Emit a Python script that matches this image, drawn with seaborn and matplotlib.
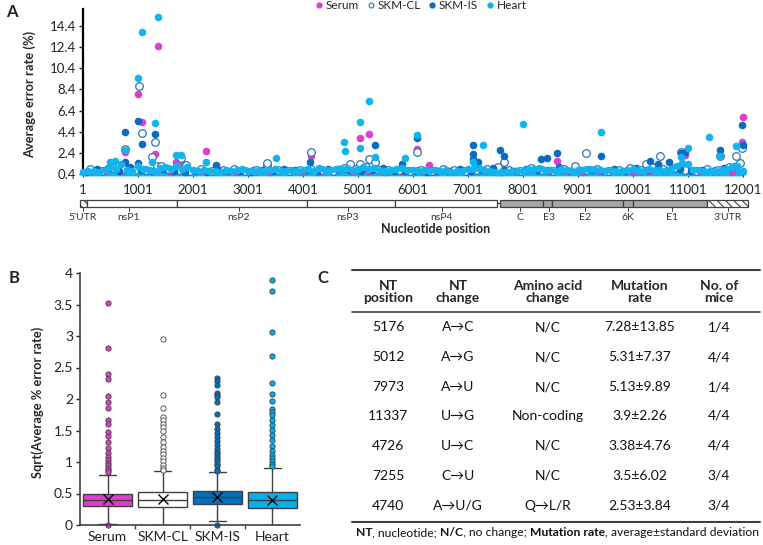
import matplotlib
matplotlib.use("Agg")
import matplotlib.pyplot as plt
from matplotlib.lines import Line2D
from matplotlib.patches import Rectangle
from matplotlib.ticker import FuncFormatter
import numpy as np
import pandas as pd
import seaborn as sns

W, H = 763, 545
FONT = ["Lato", "DejaVu Sans"]

C_SERUM = "#E23CCF"
C_CL = "#2E75B6"
C_IS = "#0B6BBE"
C_HEART = "#12B4EE"
C_EDGE = "#404040"

# ---------------- Panel A: error rate along the genome ----------------
SERIES = ["Serum", "SKM-CL", "SKM-IS", "Heart"]

# dense baseline band (positions every 100 / 200 / 300 nt)
heart_band_pos = list(range(1, 12002, 100))
heart_band = [0.6, 0.7, 0.65, 0.6, 0.75, 1.1, 0.9, 1.3, 0.8, 0.7,
              1.2, 0.9, 0.8, 0.7, 0.95, 1.1, 0.85, 1.15, 0.9, 1.05,
              0.8, 0.7, 0.75, 0.65, 0.7, 0.6, 0.8, 0.7, 0.75, 0.9,
              0.7, 0.65, 0.8, 0.7, 0.75, 0.9, 0.7, 0.65, 0.8, 0.7,
              0.75, 0.85, 0.7, 0.95, 0.8, 0.75, 0.9, 0.85, 1.0, 0.8,
              0.9, 1.05, 0.85, 1.0, 0.8, 0.7, 0.75, 0.9, 1.0, 0.75,
              0.8, 0.7, 0.75, 0.65, 0.8, 0.7, 0.75, 0.6, 0.7, 0.65,
              0.85, 0.9, 1.0, 0.8, 0.7, 0.6, 0.55, 0.6, 0.7, 0.65,
              0.7, 0.9, 0.85, 0.95, 0.8, 0.75, 0.7, 0.85, 0.8, 0.7,
              0.8, 0.75, 0.85, 0.9, 0.8, 0.7, 0.75, 0.65, 0.7, 0.8,
              0.85, 0.8, 0.7, 0.9, 0.75, 0.8, 0.7, 0.85, 1.2, 1.4,
              1.3, 0.8, 0.75, 0.7, 0.65, 0.7, 0.8, 0.9, 1.1, 1.2,
              0.7]
is_band_pos = list(range(51, 12001, 200))
is_band = [0.6, 0.9, 1.0, 0.7, 1.1, 0.8, 0.7, 0.9, 0.65, 0.6,
           0.7, 0.6, 0.75, 0.65, 0.7, 0.6, 0.8, 0.7, 0.9, 0.75,
           0.8, 0.7, 0.85, 0.9, 0.75, 0.7, 0.8, 0.95, 0.7, 0.65,
           0.7, 0.6, 0.65, 0.7, 0.9, 0.7, 0.75, 1.0, 0.8, 0.7,
           0.9, 0.8, 0.75, 1.1, 0.7, 0.8, 0.75, 0.7, 0.85, 0.7,
           1.0, 0.8, 1.3, 1.5, 0.9, 0.7, 0.8, 0.7, 1.0, 1.2]
cl_band_pos = list(range(151, 12001, 200))
cl_band = [0.8, 0.7, 1.0, 0.9, 0.75, 0.8, 1.2, 0.9, 0.8, 0.7,
           0.85, 0.7, 0.8, 0.9, 0.7, 0.8, 1.25, 0.8, 0.7, 0.75,
           0.9, 0.8, 0.7, 1.0, 0.85, 1.1, 0.9, 0.8, 0.75, 0.7,
           0.8, 0.7, 0.9, 0.8, 0.7, 0.75, 0.85, 1.1, 0.8, 0.7,
           0.95, 0.8, 0.7, 0.85, 1.2, 0.8, 0.9, 0.7, 0.8, 1.0,
           0.8, 1.1, 0.9, 1.0, 0.8, 0.7, 0.9, 0.8, 1.1, 1.4]
serum_band_pos = list(range(101, 12001, 300))
serum_band = [0.6, 0.7, 0.65, 0.9, 0.7, 0.6, 0.8, 0.65, 0.7, 0.6,
              0.75, 0.6, 0.7, 0.65, 0.6, 0.8, 0.7, 0.65, 0.6, 0.7,
              0.8, 0.6, 0.7, 0.65, 0.75, 0.6, 0.7, 0.9, 0.7, 0.65,
              0.6, 0.7, 0.8, 0.6, 0.7, 0.75, 0.9, 0.7, 0.8, 0.6]

# individual high positions
serum_hi_pos = [1370, 1006, 1079, 758, 1309, 1697, 1788, 2242, 4145, 5036,
                5206, 6079, 6291, 8612, 10950, 12006, 11988]
serum_hi = [12.52, 7.92, 5.35, 2.5, 2.28, 1.56, 1.5, 2.53, 2.12, 3.84,
            4.16, 2.75, 1.28, 1.6, 2.2, 5.79, 3.44]
cl_hi_pos = [1012, 1079, 1309, 758, 1261, 1788, 1412, 1879, 133, 3339,
             4145, 5206, 4855, 5036, 5309, 6079, 7655, 9145, 10491, 10885,
             10248, 11594, 11988, 11885]
cl_hi = [8.76, 4.31, 3.47, 2.75, 1.97, 1.87, 1.18, 1.28, 0.87, 1.4,
         2.5, 1.81, 1.34, 1.34, 1.5, 2.44, 1.5, 2.37, 2.06, 2.44,
         1.3, 2.12, 2.9, 2.12]
is_hi_pos = [1006, 758, 1309, 1073, 2424, 758, 1006, 4127, 5309, 5794,
             6079, 7085, 7085, 7085, 7176, 7582, 7655, 8339, 8436, 8612,
             9418, 10309, 10945, 10885, 11594, 11988, 12000]
is_hi = [5.44, 4.41, 4.16, 3.19, 1.28, 1.5, 1.4, 1.5, 3.16, 1.34,
         3.84, 3.16, 2.28, 1.81, 1.5, 2.69, 2.06, 1.81, 1.87, 2.34,
         2.06, 1.65, 2.5, 2.34, 2.65, 5.0, 3.12]
heart_hi_pos = [1370, 1073, 1006, 1309, 758, 1255, 1697, 1788, 2242, 485,
                576, 3509, 4752, 4764, 5206, 5036, 5036, 5309, 5855, 6079,
                7279, 7085, 8006, 9418, 11006, 10885, 11382, 11594, 11885]
heart_hi = [15.2, 13.87, 9.45, 5.25, 2.69, 1.56, 2.18, 2.22, 1.56, 1.5,
            1.6, 1.9, 3.38, 2.53, 7.29, 5.32, 2.9, 2.03, 1.87, 4.1,
            3.16, 1.5, 5.13, 4.38, 2.9, 1.97, 3.9, 2.12, 3.06]

# genome map (nt)
gene_names = ["5'UTR", "nsP1", "nsP2", "nsP3", "nsP4", "C", "E3", "E2", "6K", "E1", "3'UTR"]
gene_start = [-54, 77, 1710, 4073, 5673, 7582, 8364, 8527, 9818, 10000, 11345]
gene_end = [77, 1710, 4073, 5673, 7527, 8364, 8527, 9818, 10000, 11345, 12091]
gene_kind = ["utr", "ns", "ns", "ns", "ns", "s", "s", "s", "s", "s", "utr"]
gene_label_pos = [0, 837, 2837, 4818, 6527, 7945, 8473, 9127, 9909, 10709, 11727]

# ---------------- Panel B: box plot statistics ----------------
box_names = ["Serum", "SKM-CL", "SKM-IS", "Heart"]
box_colors = [C_SERUM, "white", "#0070C0", "#00B0F0"]
box_whislo = [0.01, 0.0, 0.06, 0.0]
box_q1 = [0.30, 0.29, 0.34, 0.27]
box_med = [0.40, 0.40, 0.44, 0.39]
box_q3 = [0.50, 0.53, 0.54, 0.52]
box_whishi = [0.79, 0.86, 0.84, 0.90]
box_mean = [0.41, 0.42, 0.45, 0.40]
fliers_serum = [3.53, 2.81, 2.39, 2.31, 2.04, 1.95, 1.86, 1.66, 1.61, 1.47, 1.42, 1.31,
                1.22, 1.14, 1.08, 1.03, 0.99, 0.95, 0.91, 0.87, 0.84, 0.0]
fliers_cl = [2.96, 2.07, 1.86, 1.71, 1.66, 1.61, 1.55, 1.50, 1.40, 1.32, 1.24, 1.18,
             1.12, 1.07, 1.02, 0.96, 0.91, 0.87]
fliers_is = [2.33, 2.29, 2.22, 2.10, 2.06, 2.03, 1.95, 1.76, 1.61, 1.53, 1.46, 1.39,
             1.33, 1.27, 1.21, 1.16, 1.13, 1.08, 1.05, 1.01, 0.97, 0.93, 0.88, 0.85, 0.0]
fliers_heart = [3.89, 3.71, 3.06, 2.69, 2.26, 2.08, 1.97, 1.84, 1.79, 1.74, 1.67, 1.59,
                1.51, 1.43, 1.35, 1.25, 1.18, 1.11, 1.06, 1.02, 0.97, 0.93]

# ---------------- Panel C: table ----------------
col_headers = ["NT\nposition", "NT\nchange", "Amino acid\nchange", "Mutation\nrate", "No. of\nmice"]
nt_position = ["5176", "5012", "7973", "11337", "4726", "7255", "4740"]
nt_change = ["A\u2192C", "A\u2192G", "A\u2192U", "U\u2192G", "U\u2192C", "C\u2192U", "A\u2192U/G"]
aa_change = ["N/C", "N/C", "N/C", "Non-coding", "N/C", "N/C", "Q\u2192L/R"]
mutation_rate = ["7.28\u00b113.85", "5.31\u00b17.37", "5.13\u00b19.89", "3.9\u00b12.26",
                 "3.38\u00b14.76", "3.5\u00b16.02", "2.53\u00b13.84"]
no_of_mice = ["1/4", "4/4", "1/4", "4/4", "4/4", "3/4", "3/4"]
footnote = [("NT", "bold"), (", nucleotide;", "normal"), ("N/C", "bold"),
            (", no change;", "normal"), ("Mutation rate", "bold"),
            (", average\u00b1standard deviation", "normal")]

sns.set_theme(style="white")
plt.rcParams["font.family"] = FONT
plt.rcParams["hatch.linewidth"] = 0.8

fig = plt.figure(figsize=(W / 100, H / 100), dpi=100)
fig.patch.set_facecolor("white")


def axes_px(x0, y0, x1, y1):
    return fig.add_axes([x0 / W, 1 - y1 / H, (x1 - x0) / W, (y1 - y0) / H])


# ---- A ----
axA = axes_px(83, 9, 745, 174)
frames = []
for name, bp, bv, hp, hv in [
    ("Serum", serum_band_pos, serum_band, serum_hi_pos, serum_hi),
    ("SKM-CL", cl_band_pos, cl_band, cl_hi_pos, cl_hi),
    ("SKM-IS", is_band_pos, is_band, is_hi_pos, is_hi),
    ("Heart", heart_band_pos, heart_band, heart_hi_pos, heart_hi),
]:
    frames.append(pd.DataFrame({"series": name, "pos": bp + hp, "rate": bv + hv}))
dfA = pd.concat(frames, ignore_index=True)

# solid body of the overlapping heart band
axA.fill_between(heart_band_pos, 0.22, heart_band, color=C_HEART, lw=0, zorder=2.9,
                 clip_on=False)

styles = {
    "Serum": dict(color=C_SERUM, linewidth=0),
    "SKM-CL": dict(color="white", edgecolor=C_CL, linewidth=0.9),
    "SKM-IS": dict(color=C_IS, linewidth=0),
    "Heart": dict(color=C_HEART, linewidth=0),
}
for name in SERIES:
    sns.scatterplot(data=dfA[dfA["series"] == name], x="pos", y="rate", ax=axA,
                    s=30, legend=False, clip_on=False, zorder=3, **styles[name])

axA.set_xlim(1, 12040)
axA.set_ylim(0.4, 16.0)
axA.set_xticks(np.arange(1, 12002, 1000))
axA.set_yticks(np.arange(0.4, 15, 2))
axA.yaxis.set_major_formatter(FuncFormatter(lambda v, p: f"{v:.1f}"))
axA.set_xlabel("")
axA.set_ylabel("")
for s in ["top", "right"]:
    axA.spines[s].set_visible(False)
axA.spines["left"].set_color("black")
axA.spines["left"].set_linewidth(1.6)
axA.spines["bottom"].set_color("black")
axA.spines["bottom"].set_linewidth(1.0)
axA.tick_params(axis="y", direction="out", length=3, width=1, pad=2, labelsize=9.5,
                colors="#222222", left=True)
axA.tick_params(axis="x", direction="out", length=2, width=0.8, pad=5, labelsize=9.5,
                colors="#222222", bottom=True)
axA.patch.set_alpha(0)

handles = [
    Line2D([], [], marker="o", ls="", mfc=C_SERUM, mec=C_SERUM, ms=3.5),
    Line2D([], [], marker="o", ls="", mfc="white", mec=C_CL, ms=3.5, mew=0.8),
    Line2D([], [], marker="o", ls="", mfc=C_IS, mec=C_IS, ms=3.5),
    Line2D([], [], marker="o", ls="", mfc=C_HEART, mec=C_HEART, ms=3.5),
]
axA.legend(handles, SERIES, loc="center", bbox_to_anchor=(0.509, 1.02), ncol=4,
           frameon=False, fontsize=8.5, handletextpad=0.05, columnspacing=0.5,
           handlelength=1.0, borderaxespad=0)

# genome map
axM = axes_px(83, 195, 745, 240)
axM.set_xlim(axA.get_xlim())
axM.set_ylim(240, 195)
axM.axis("off")
for name, st, en, kind in zip(gene_names, gene_start, gene_end, gene_kind):
    fc = {"utr": "white", "ns": "white", "s": "#A6A6A6"}[kind]
    hatch = "\\\\\\\\" if kind == "utr" else None
    axM.add_patch(Rectangle((st, 200), en - st, 7, facecolor=fc, edgecolor=C_EDGE,
                            lw=0.9, hatch=hatch, clip_on=False))
axM.plot([gene_end[4], gene_start[5]], [203.5, 203.5], color=C_EDGE, lw=0.9, clip_on=False)
for name, lp in zip(gene_names, gene_label_pos):
    axM.plot([lp, lp], [207, 211], color=C_EDGE, lw=0.7, clip_on=False)
    axM.text(lp, 218, name, ha="center", va="center", fontsize=7.5, color="#333333")

# ---- B ----
axB = axes_px(80, 273, 300, 525)
fl_lists = [fliers_serum, fliers_cl, fliers_is, fliers_heart]
stats = []
for i, name in enumerate(box_names):
    stats.append(dict(label=name, whislo=box_whislo[i], q1=box_q1[i], med=box_med[i],
                      q3=box_q3[i], whishi=box_whishi[i], mean=box_mean[i],
                      fliers=fl_lists[i]))
res = axB.bxp(stats, positions=range(4), widths=0.9, patch_artist=True, showmeans=True,
              capwidths=0.3,
              boxprops=dict(edgecolor=C_EDGE, linewidth=1.0),
              whiskerprops=dict(color=C_EDGE, linewidth=1.0),
              capprops=dict(color=C_EDGE, linewidth=1.0),
              medianprops=dict(color=C_EDGE, linewidth=1.0),
              meanprops=dict(marker="x", markeredgecolor="black", markersize=7,
                             markeredgewidth=1.0),
              flierprops=dict(marker="o", markersize=3.8, markeredgewidth=0.6,
                              markeredgecolor=C_EDGE))
for patch, fl, col in zip(res["boxes"], res["fliers"], box_colors):
    patch.set_facecolor(col)
    fl.set_markerfacecolor(col)
    fl.set_clip_on(False)
axB.set_xlim(-0.5, 3.5)
axB.set_ylim(0, 4)
axB.set_yticks(np.arange(0, 4.01, 0.5))
axB.yaxis.set_major_formatter(FuncFormatter(lambda v, p: f"{v:g}"))
axB.set_xticks(range(4))
axB.set_xticklabels(box_names)
axB.set_xticks([0.5, 1.5, 2.5], minor=True)
for s in ["top", "right"]:
    axB.spines[s].set_visible(False)
for s in ["left", "bottom"]:
    axB.spines[s].set_color(C_EDGE)
    axB.spines[s].set_linewidth(1.2)
axB.tick_params(axis="y", direction="out", length=3, width=1, pad=2, labelsize=10,
                colors="#222222", left=True)
axB.tick_params(axis="x", which="major", length=0, pad=4, labelsize=10, colors="#222222")
axB.tick_params(axis="x", which="minor", direction="out", length=3, width=1,
                color=C_EDGE, bottom=True)
axB.patch.set_alpha(0)

# ---- overlay for text / table ----
axT = fig.add_axes([0, 0, 1, 1])
axT.set_xlim(0, W)
axT.set_ylim(H, 0)
axT.axis("off")
axT.patch.set_alpha(0)

axT.text(12, 12, "A", fontsize=12, fontweight="bold", ha="center", va="center")
axT.text(14, 278, "B", fontsize=12, fontweight="bold", ha="center", va="center")
axT.text(323, 278, "C", fontsize=12, fontweight="bold", ha="center", va="center")
axT.text(30, 94, "Average error rate (%)", rotation=90, fontsize=9.3, fontweight="bold",
         ha="center", va="center")
axT.text(436, 229, "Nucleotide position", fontsize=9, fontweight="bold",
         ha="center", va="center")
axT.text(38, 402, "Sqrt(Average % error rate)", rotation=90, fontsize=9.3,
         fontweight="bold", ha="center", va="center")

col_x = [388, 458, 548, 640, 719]
row_y = [327, 357, 387, 416, 446, 476, 506]
axT.plot([352, 760], [270, 270], color=C_EDGE, lw=1.5)
axT.plot([352, 760], [312, 312], color=C_EDGE, lw=1.2)
axT.plot([352, 760], [522, 522], color=C_EDGE, lw=1.5)
for x, h in zip(col_x, col_headers):
    axT.text(x, 292, h, fontsize=10, fontweight="bold", ha="center", va="center",
             linespacing=1.1)
for col, x in zip([nt_position, nt_change, aa_change, mutation_rate, no_of_mice], col_x):
    for val, y in zip(col, row_y):
        axT.text(x, y, val, fontsize=10, ha="center", va="center", color="#111111")

renderer = fig.canvas.get_renderer()
probe_a = axT.text(0, 0, "x x", fontsize=8.7)
probe_b = axT.text(0, 0, "xx", fontsize=8.7)
space_w = probe_a.get_window_extent(renderer).width - probe_b.get_window_extent(renderer).width
probe_a.remove()
probe_b.remove()
x = 356
for txt, wgt in footnote:
    t = axT.text(x, 533, txt, fontsize=8.7, fontweight=wgt, ha="left", va="center",
                 color="#111111")
    x += t.get_window_extent(renderer).width
    if txt.endswith(";"):
        x += space_w

fig.savefig("out.png", dpi=100, facecolor="white")
